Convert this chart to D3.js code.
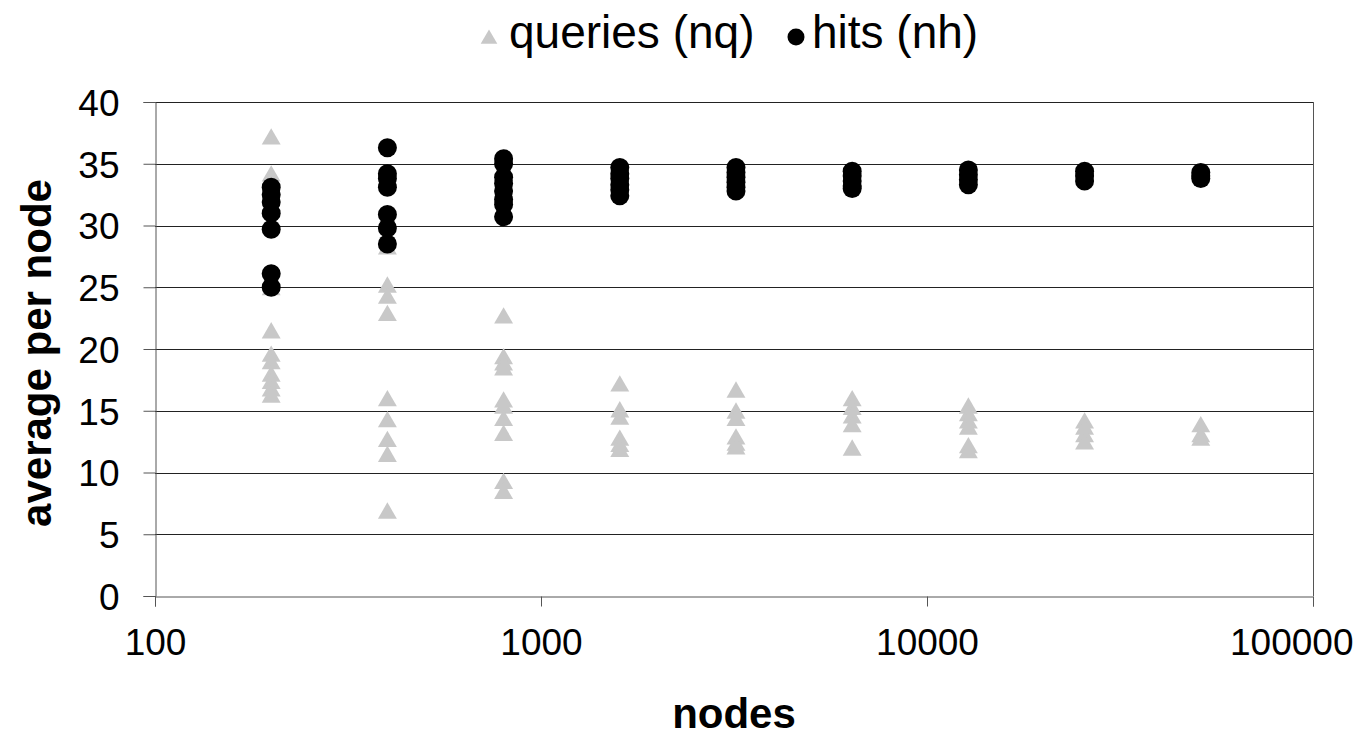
<!DOCTYPE html>
<html>
<head>
<meta charset="utf-8">
<script src="https://cdn.jsdelivr.net/npm/d3@7"></script>
<style>
  body { margin: 0; background: #fff; }
  text { font-family: "Liberation Sans", Arial, sans-serif; }
</style>
</head>
<body>
<svg id="chart"></svg>
<script>
// node counts (x values) and readings per run at each size
const nodes = [200, 400, 800, 1600, 3200, 6400, 12800, 25600, 51200];

const queries = [
    [37.0, 34.0, 24.8, 21.3, 19.4, 18.8, 17.8, 17.2, 16.6, 16.1],
    [28.1, 25.0, 24.1, 22.7, 15.8, 14.1, 12.5, 11.3, 6.7],
    [22.5, 19.2, 18.7, 18.3, 15.7, 15.2, 14.2, 13.0, 9.1, 8.3],
    [17.0, 14.9, 14.3, 12.6, 12.1, 11.7],
    [16.5, 14.8, 14.2, 12.7, 12.2, 11.9],
    [15.8, 15.1, 14.4, 13.7, 11.8],
    [15.2, 14.6, 14.0, 13.5, 12.0, 11.6],
    [14.0, 13.5, 12.9, 12.3],
    [13.7, 12.9, 12.6]
];

const hits = [
    [33.1, 32.5, 31.9, 31.0, 29.7, 26.1, 25.0],
    [36.3, 34.2, 33.8, 33.1, 30.9, 29.8, 28.5],
    [35.4, 35.0, 33.9, 33.4, 32.8, 32.1, 31.7, 30.7],
    [34.7, 34.2, 33.8, 33.3, 32.9, 32.4],
    [34.7, 34.3, 33.9, 33.5, 33.1, 32.8],
    [34.4, 34.0, 33.6, 33.2, 33.0],
    [34.5, 34.1, 33.7, 33.3],
    [34.4, 34.0, 33.6],
    [34.3, 34.0, 33.8]
];

const xTicks = [100, 1000, 10000, 100000];
const yTicks = [0, 5, 10, 15, 20, 25, 30, 35, 40];

const width = 1355, height = 741;
const plotLeft = 155, plotRight = 1313, plotTop = 102, plotBottom = 596;

const svg = d3.select("#chart")
    .attr("width", width)
    .attr("height", height);

const x = d3.scaleLog().domain([100, 100000]).range([plotLeft, plotRight]);
const y = d3.scaleLinear().domain([0, 40]).range([plotBottom, plotTop]);

// flatten to points
const qPoints = nodes.flatMap((n, i) => queries[i].map(v => ({n, v})));
const hPoints = nodes.flatMap((n, i) => hits[i].map(v => ({n, v})));

// gridlines
svg.append("g")
    .selectAll("line")
    .data(yTicks.filter(t => t > 0))
    .enter()
    .append("line")
    .attr("x1", plotLeft).attr("x2", plotRight)
    .attr("y1", d => Math.round(y(d)) + 0.5)
    .attr("y2", d => Math.round(y(d)) + 0.5)
    .attr("stroke", "#222")
    .attr("stroke-width", 1);

// right border of the plot area
svg.append("line")
    .attr("x1", plotRight + 0.5).attr("x2", plotRight + 0.5)
    .attr("y1", plotTop).attr("y2", plotBottom)
    .attr("stroke", "#555");

// axes
const yAxis = d3.axisLeft(y).tickValues(yTicks).tickSize(12).tickPadding(24);
const xAxis = d3.axisBottom(x).tickValues(xTicks).tickFormat(d3.format("d")).tickSize(10).tickPadding(14);

const gy = svg.append("g")
    .attr("transform", `translate(${plotLeft + 0.5},0)`)
    .call(yAxis);
const gx = svg.append("g")
    .attr("transform", `translate(0,${Math.round(plotBottom) + 0.5})`)
    .call(xAxis);

[gx, gy].forEach(g => {
    g.select(".domain").attr("stroke", "#555");
    g.selectAll(".tick line").attr("stroke", "#555");
    g.selectAll(".tick text")
        .attr("fill", "#000")
        .style("font-size", "37px")
        .style("font-family", "'Liberation Sans', Arial, sans-serif");
});
gy.selectAll(".tick text").attr("dy", "0.36em");
gx.selectAll(".tick text").attr("dy", "0.92em");
// last x label is pushed in so it fits the page
gx.selectAll(".tick text").filter(d => d === 100000)
    .attr("text-anchor", "end")
    .attr("x", 1353 - plotRight);

// triangles (queries) drawn first
const tri = d3.symbol().type(d3.symbolTriangle).size(155);
svg.append("g")
    .selectAll("path")
    .data(qPoints)
    .enter()
    .append("path")
    .attr("d", tri)
    .attr("transform", d => `translate(${x(d.n)},${y(d.v)})`)
    .attr("fill", "#c8c8c8");

// circles (hits) on top
svg.append("g")
    .selectAll("circle")
    .data(hPoints)
    .enter()
    .append("circle")
    .attr("cx", d => x(d.n))
    .attr("cy", d => y(d.v))
    .attr("r", 9.5)
    .attr("fill", "#000");

// axis titles
svg.append("text")
    .attr("x", (plotLeft + plotRight) / 2)
    .attr("y", 728)
    .attr("text-anchor", "middle")
    .style("font-size", "42px")
    .style("font-weight", "bold")
    .text("nodes");

svg.append("text")
    .attr("transform", `translate(51,${(plotTop + plotBottom) / 2 + 4}) rotate(-90)`)
    .attr("text-anchor", "middle")
    .style("font-size", "42px")
    .style("font-weight", "bold")
    .text("average per node");

// legend
const legend = svg.append("g");
legend.append("path")
    .attr("d", d3.symbol().type(d3.symbolTriangle).size(120))
    .attr("transform", "translate(489,39)")
    .attr("fill", "#c8c8c8");
legend.append("text")
    .attr("x", 509).attr("y", 48)
    .style("font-size", "46px")
    .text("queries (nq)");
legend.append("circle")
    .attr("cx", 796).attr("cy", 37).attr("r", 8.5)
    .attr("fill", "#000");
legend.append("text")
    .attr("x", 812).attr("y", 48)
    .style("font-size", "46px")
    .text("hits (nh)");
</script>
</body>
</html>
